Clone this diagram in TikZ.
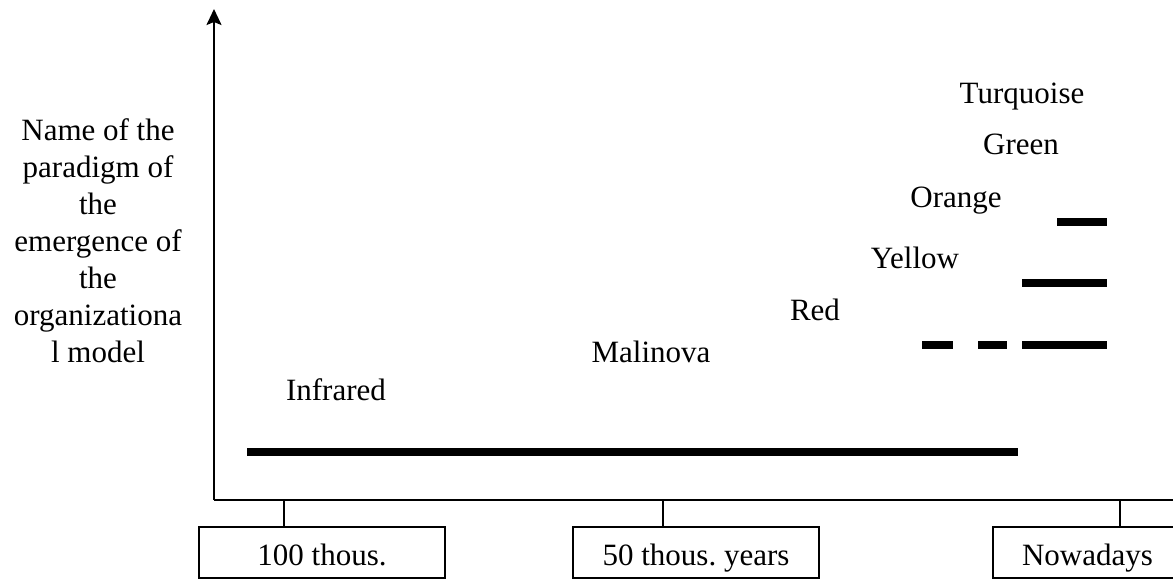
\documentclass[tikz,border=0pt]{standalone}
\usepackage{fontspec}
\setmainfont{Liberation Serif}
\usetikzlibrary{arrows.meta}
\frenchspacing
\begin{document}
\begin{tikzpicture}[x=1pt,y=-1pt,
  lbl/.style={inner sep=0pt,anchor=base,font=\fontsize{31}{37}\selectfont},
  datebox/.style={draw,line width=1.8pt,minimum height=51pt,inner sep=0pt,
    text height=25pt,text depth=0pt,font=\fontsize{31}{37}\selectfont},
  axis/.style={line width=2pt},
  bar/.style={line width=7.5pt,line cap=butt}]
\useasboundingbox (0,0) rectangle (1173,579);
\clip (0,0) rectangle (1173,579);
% axes
\coordinate (O) at (214,500);
\coordinate (top) at (214,9);
\coordinate (right) at (1175,500);
\draw[axis,-{Stealth[length=16pt,width=15pt,inset=3pt]}] (O) -- (top);
\draw[axis] (O) -- (right);
% y-axis label
\node[inner sep=0pt,anchor=north,align=center,font=\fontsize{31}{37}\selectfont] (ylab) at (98,118)
  {Name of the\\paradigm of\\the\\emergence of\\the\\organizationa\\l model};
% date boxes
\node[datebox,minimum width=246pt] (b1) at (322,552.5) {100 thous.};
\node[datebox,minimum width=246pt] (b2) at (696,552.5) {50 thous. years};
\node[datebox,minimum width=189pt] (b3) at (1087.5,552.5) {Nowadays};
\coordinate (t1) at (284,500);
\coordinate (t2) at (663,500);
\coordinate (t3) at (1120,500);
\draw[axis] (t1) -- (t1 |- b1.north);
\draw[axis] (t2) -- (t2 |- b2.north);
\draw[axis] (t3) -- (t3 |- b3.north);
% paradigm labels
\node[lbl] (turq) at (1022,103) {Turquoise};
\node[lbl] (green) at (1021,154) {Green};
\node[lbl] (orange) at (956,207) {Orange};
\node[lbl] (yellow) at (915,268) {Yellow};
\node[lbl] (red) at (815,320) {Red};
\node[lbl] (malin) at (651,362) {Malinova};
\node[lbl] (infra) at (336,400) {Infrared};
% bars
\draw[bar,line width=8pt] (247,452) -- (1018,452);
\draw[bar] (1057,222) -- (1107,222);
\draw[bar] (1022,283) -- (1107,283);
\draw[bar] (1022,345) -- (1107,345);
\draw[bar] (922,345) -- (953,345);
\draw[bar] (978,345) -- (1007,345);
\end{tikzpicture}
\end{document}
